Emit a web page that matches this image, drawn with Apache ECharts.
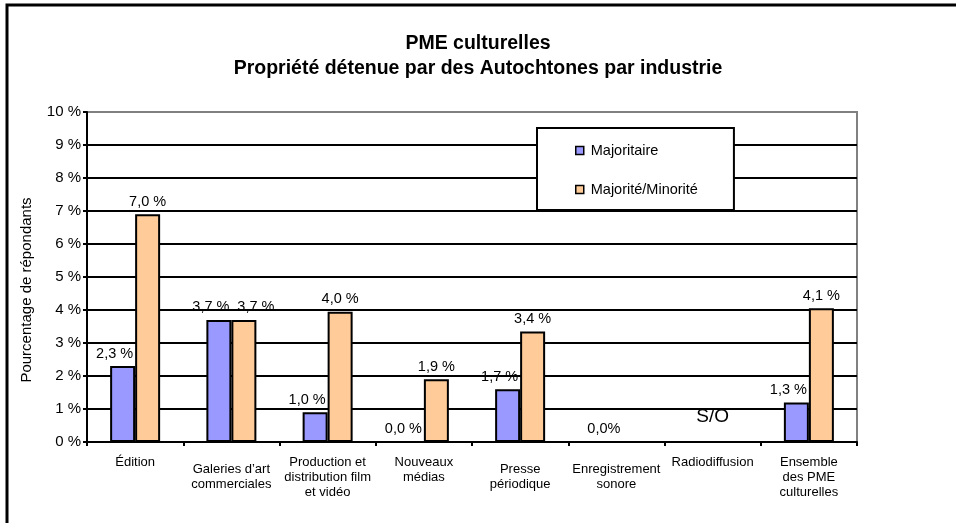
<!DOCTYPE html>
<html>
<head>
<meta charset="utf-8">
<script src="https://cdn.jsdelivr.net/npm/echarts@6/dist/echarts.min.js"></script>
<style>
  html, body { margin: 0; padding: 0; background: #fff; }
  #chart { width: 956px; height: 523px; }
</style>
</head>
<body>
<div id="chart"></div>
<script>
// categories (x axis)
const categories = [
  "Édition",
  "Galeries d’art\ncommerciales",
  "Production et\ndistribution film\net vidéo",
  "Nouveaux\nmédias",
  "Presse\npériodique",
  "Enregistrement\nsonore",
  "Radiodiffusion",
  "Ensemble\ndes PME\nculturelles"
];
// series values (null = no bar)
const majoritaire = [2.3, 3.7, 0.9, 0, 1.6, 0, null, 1.2];
const majMinorite = [6.9, 3.7, 3.95, 1.9, 3.35, null, null, 4.05];
// data labels as printed on the chart
const majLabels = ["2,3 %", "3,7 %", "1,0 %", "0,0 %", "1,7 %", "0,0%", "", "1,3 %"];
const minLabels = ["7,0 %", "3,7 %", "4,0 %", "1,9 %", "3,4 %", "", "", "4,1 %"];
// y axis ticks
const yTicks = [0, 1, 2, 3, 4, 5, 6, 7, 8, 9, 10];

const FONT = 'Arial, "Liberation Sans", sans-serif';
const lowered = [1, 4, 5]; // labels that sit a half line lower

const chart = echarts.init(document.getElementById("chart"));

const option = {
  animation: false,
  textStyle: { fontFamily: FONT, color: "#000" },
  title: {
    text: "PME culturelles\nPropriété détenue par des Autochtones par industrie",
    left: "center",
    top: 26,
    textStyle: { fontFamily: FONT, fontSize: 19.5, fontWeight: "bold", color: "#000", lineHeight: 25 },
  },
  // outer frame
  graphic: [
    {
      type: "rect",
      shape: { x: 7, y: 5, width: 1000, height: 600 },
      style: { fill: "none", stroke: "#000", lineWidth: 3 },
      silent: true,
    },
  ],
  legend: {
    orient: "vertical",
    left: 537,
    top: 128,
    padding: [15, 36, 13, 38],
    itemGap: 24,
    itemWidth: 8,
    itemHeight: 8,
    icon: "rect",
    selectedMode: false,
    backgroundColor: "#fff",
    borderColor: "#000",
    borderWidth: 2,
    itemStyle: { borderColor: "#000", borderWidth: 1.5 },
    textStyle: { fontFamily: FONT, fontSize: 14.5, color: "#000", padding: [0, 0, 0, 2] },
    data: ["Majoritaire", "Majorité/Minorité"],
    z: 10,
  },
  grid: {
    left: 87,
    right: 99,
    top: 112,
    bottom: 81,
    show: true,
    borderColor: "#808080",
    borderWidth: 2,
    backgroundColor: "transparent",
  },
  xAxis: {
    type: "category",
    data: categories,
    axisLine: { lineStyle: { color: "#000", width: 2 } },
    axisTick: { show: true, length: 4, lineStyle: { color: "#000", width: 2 } },
    axisLabel: {
      interval: 0,
      margin: 13,
      fontSize: 13,
      lineHeight: 15,
      color: "#000",
      fontFamily: FONT,
      formatter: (v, i) => (lowered.includes(i) ? "{p| }\n" + v : v),
      rich: { p: { fontSize: 1, lineHeight: 7 } },
    },
  },
  yAxis: {
    type: "value",
    min: yTicks[0],
    max: yTicks[yTicks.length - 1],
    interval: 1,
    name: "Pourcentage de répondants",
    nameLocation: "middle",
    nameGap: 53,
    nameTextStyle: { fontFamily: FONT, fontSize: 15, color: "#000", padding: [0, 26, 0, 0] },
    axisLine: { show: true, lineStyle: { color: "#000", width: 2 } },
    axisTick: { show: true, length: 4, lineStyle: { color: "#000", width: 2 } },
    axisLabel: {
      margin: 6,
      fontSize: 15,
      color: "#000",
      fontFamily: FONT,
      formatter: (v) => v + " %",
    },
    splitLine: {
      show: true,
      lineStyle: {
        width: 2,
        // top line is grey like the plot border
        color: yTicks.map((t, i) => (i === yTicks.length - 1 ? "#808080" : "#000")),
      },
    },
  },
  series: [
    {
      name: "Majoritaire",
      type: "bar",
      barWidth: 25,
      barGap: "0%",
      data: majoritaire.map((v, i) => ({
        value: v,
        label: i === 5 ? { offset: [0, 0] } : undefined,
      })),
      itemStyle: { color: "#9999FF", borderColor: "#000", borderWidth: 2 },
      label: {
        show: true,
        position: "top",
        distance: 5,
        offset: [-8, 0],
        fontSize: 14.5,
        color: "#000",
        fontFamily: FONT,
        formatter: (p) => majLabels[p.dataIndex],
      },
    },
    {
      name: "Majorité/Minorité",
      type: "bar",
      barWidth: 25,
      barGap: "0%",
      data: majMinorite.map((v, i) => ({
        value: v,
        label: i === 1 ? { offset: [12, 0] } : undefined,
      })),
      itemStyle: { color: "#FFCC99", borderColor: "#000", borderWidth: 2 },
      label: {
        show: true,
        position: "top",
        distance: 5,
        fontSize: 14.5,
        color: "#000",
        fontFamily: FONT,
        formatter: (p) => minLabels[p.dataIndex],
      },
    },
    {
      // S/O (sans objet) for Radiodiffusion, centred on the category
      name: "S/O",
      type: "scatter",
      symbol: "circle",
      symbolSize: 1,
      silent: true,
      itemStyle: { color: "rgba(0,0,0,0)", opacity: 1 },
      data: [[categories[6], 0.76]],
      label: {
        show: true,
        position: "inside",
        fontSize: 19,
        color: "#000",
        opacity: 1,
        fontFamily: FONT,
        formatter: "S/O",
      },
    },
  ],
};

chart.setOption(option);
</script>
</body>
</html>
